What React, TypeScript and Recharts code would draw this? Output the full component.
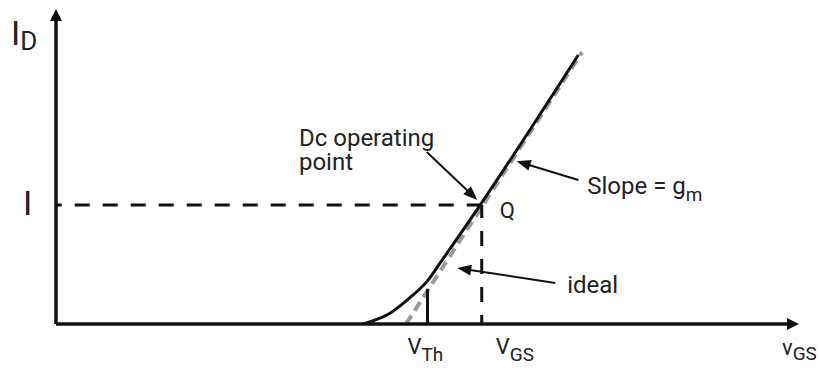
import React from 'react'
import { ComposedChart, Line, XAxis, YAxis, ReferenceLine, ReferenceDot } from 'recharts'

// transfer characteristic, vGS (x) against iD (y), arbitrary units
const curveVgs = [4.13, 4.5, 4.76, 5.0, 5.18, 5.71, 7.03]
const curveId = [0, 0.35, 0.83, 1.37, 1.97, 3.78, 8.54]

// ideal (linearised) characteristic
const idealVgs = [4.71, 7.08]
const idealId = [0, 8.63]

const VTH = 5.0
const VTH_MARK_TOP = 1.11
const VGS_Q = 5.73
const ID_Q = 3.78

const AXIS_MAX_X = 10
const AXIS_MAX_Y = 10

// annotation arrows: [tail vgs, tail id, tip vgs, tip id]
const opPointArrow = [4.99, 5.46, 5.67, 3.94]
const slopeArrow = [7.03, 4.57, 6.2, 5.17]
const idealArrow = [6.72, 1.3, 5.4, 1.78]

const curveData = curveVgs.map((x, i) => ({ x, y: curveId[i] }))
const idealData = idealVgs.map((x, i) => ({ x, y: idealId[i] }))

const FONT = 'Roboto, "Noto Sans", sans-serif'
const TEXT = '#222'

const arrow = (width: number, head: number, headW: number) => (p: any) => {
	const { x1, y1, x2, y2 } = p
	const dx = x2 - x1
	const dy = y2 - y1
	const len = Math.hypot(dx, dy) || 1
	const ux = dx / len
	const uy = dy / len
	const bx = x2 - ux * head
	const by = y2 - uy * head
	const nx = -uy * (headW / 2)
	const ny = ux * (headW / 2)
	return (
		<g>
			<line x1={x1} y1={y1} x2={bx + ux} y2={by + uy} stroke="#111" strokeWidth={width} />
			<polygon points={`${x2},${y2} ${bx + nx},${by + ny} ${bx - nx},${by - ny}`} fill="#111" />
		</g>
	)
}

const label = (dx: number, dy: number, parts: { t: string; size: number; dy?: number }[]) => (p: any) => (
	<text x={p.cx + dx} y={p.cy + dy} fill={TEXT} fontFamily={FONT}>
		{parts.map((s, i) => (
			<tspan key={i} fontSize={s.size} dy={s.dy ?? 0}>
				{s.t}
			</tspan>
		))}
	</text>
)

const Arrow = (a: number[]) => (
	<ReferenceLine
		segment={[
			{ x: a[0], y: a[1] },
			{ x: a[2], y: a[3] },
		]}
		ifOverflow="visible"
		shape={arrow(2, 14, 11)}
	/>
)

const App = () => {
	return (
		<div>
			<style>{`body{margin:0;background:#fff}`}</style>
			<ComposedChart width={820} height={368} margin={{ top: 9, right: 21, bottom: 44, left: 56 }}>
				<XAxis type="number" dataKey="x" domain={[0, AXIS_MAX_X]} hide allowDataOverflow />
				<YAxis type="number" dataKey="y" domain={[0, AXIS_MAX_Y]} hide allowDataOverflow width={0} />

				<Line
					data={idealData}
					dataKey="y"
					type="linear"
					stroke="#9a9a9a"
					strokeWidth={4}
					strokeDasharray="10 6"
					dot={false}
					isAnimationActive={false}
				/>

				<ReferenceLine
					segment={[
						{ x: VGS_Q, y: ID_Q },
						{ x: 0, y: ID_Q },
					]}
					stroke="#111"
					strokeWidth={3}
					strokeDasharray="15 13"
					ifOverflow="visible"
				/>
				<ReferenceLine
					segment={[
						{ x: VGS_Q, y: 0 },
						{ x: VGS_Q, y: ID_Q },
					]}
					stroke="#111"
					strokeWidth={3}
					strokeDasharray="15 13"
					strokeDashoffset={6}
					ifOverflow="visible"
				/>
				<ReferenceLine
					segment={[
						{ x: VTH, y: 0 },
						{ x: VTH, y: VTH_MARK_TOP },
					]}
					stroke="#111"
					strokeWidth={3}
					ifOverflow="visible"
				/>

				<Line
					data={curveData}
					dataKey="y"
					type="monotone"
					stroke="#111"
					strokeWidth={3}
					dot={false}
					isAnimationActive={false}
				/>

				{/* axes */}
				<ReferenceLine
					segment={[
						{ x: 0, y: 0 },
						{ x: AXIS_MAX_X, y: 0 },
					]}
					ifOverflow="visible"
					shape={arrow(3.5, 12, 12)}
				/>
				<ReferenceLine
					segment={[
						{ x: 0, y: 0 },
						{ x: 0, y: AXIS_MAX_Y },
					]}
					ifOverflow="visible"
					shape={arrow(3.5, 12, 12)}
				/>

				{Arrow(opPointArrow)}
				{Arrow(slopeArrow)}
				{Arrow(idealArrow)}

				<ReferenceDot x={0} y={AXIS_MAX_Y} r={0} ifOverflow="visible"
					shape={label(-45, 36, [{ t: 'I', size: 34 }, { t: 'D', size: 26, dy: 5 }])} />
				<ReferenceDot x={0} y={ID_Q} r={0} ifOverflow="visible"
					shape={label(-33, 10, [{ t: 'I', size: 34 }])} />
				<ReferenceDot x={VTH} y={0} r={0} ifOverflow="visible"
					shape={label(-20, 30, [{ t: 'V', size: 22 }, { t: 'Th', size: 19, dy: 7 }])} />
				<ReferenceDot x={VGS_Q} y={0} r={0} ifOverflow="visible"
					shape={label(14, 30, [{ t: 'V', size: 22 }, { t: 'GS', size: 19, dy: 7 }])} />
				<ReferenceDot x={AXIS_MAX_X} y={0} r={0} ifOverflow="visible"
					shape={label(-17, 31, [{ t: 'v', size: 22 }, { t: 'GS', size: 19, dy: 5 }])} />
				<ReferenceDot x={VGS_Q} y={ID_Q} r={0} ifOverflow="visible"
					shape={label(18, 13, [{ t: 'Q', size: 22 }])} />
				<ReferenceDot x={3.27} y={5.62} r={0} ifOverflow="visible"
					shape={(p: any) => (
						<text x={p.cx} y={p.cy - 1} fill={TEXT} fontFamily={FONT} fontSize={24}>
							<tspan x={p.cx}>Dc operating</tspan>
							<tspan x={p.cx} dy={24}>point</tspan>
						</text>
					)} />
				<ReferenceDot x={7.15} y={4.13} r={0} ifOverflow="visible"
					shape={label(0, 0, [{ t: 'Slope = g', size: 24 }, { t: 'm', size: 19, dy: 7 }])} />
				<ReferenceDot x={6.88} y={0.98} r={0} ifOverflow="visible"
					shape={label(0, 0, [{ t: 'ideal', size: 24 }])} />
			</ComposedChart>
		</div>
	)
}

export default App
